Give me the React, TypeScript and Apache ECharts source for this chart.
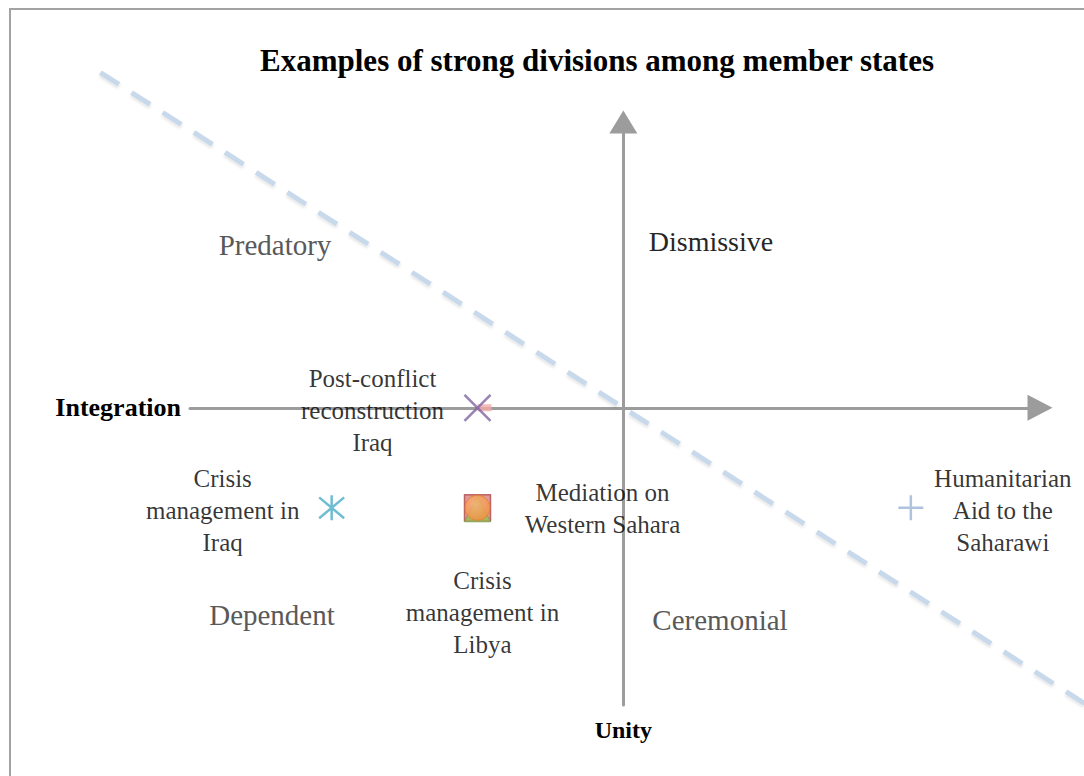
import React, { useEffect, useRef } from "react";
import * as echarts from "echarts";

// ---- data ----
const pointLabels = [
  "Post-conflict\nreconstruction\nIraq",
  "Crisis\nmanagement in\nIraq",
  "Mediation on\nWestern Sahara",
  "Crisis\nmanagement in\nLibya",
  "Humanitarian\nAid to the\nSaharawi",
];
const pointX = [-3.5, -7, -3.5, -3.5, 6.9];
const pointY = [0, -3.5, -3.5, -3.5, -3.5];

const dividerX = [-12.55, 11.5];
const dividerY = [11.73, -10.75];

const titleText = "Examples of strong divisions among member states";
const xAxisName = "Integration";
const yAxisName = "Unity";
const quadrantLabels = ["Predatory", "Dismissive", "Dependent", "Ceremonial"];

const SERIF = "'Liberation Serif', 'Times New Roman', serif";

// main plot geometry
const GRID = { left: 190, right: 44, top: 122, bottom: 71 };
const X_MIN = -10.4, X_MAX = 10, Y_MIN = -10.4, Y_MAX = 10;
const W = 1084, H = 776;
const pxPerX = (W - GRID.left - GRID.right) / (X_MAX - X_MIN);
const pxPerY = (H - GRID.top - GRID.bottom) / (Y_MAX - Y_MIN);

function labelStyle(offset: number[]) {
  return {
    show: true,
    position: "inside",
    offset,
    align: "center",
    verticalAlign: "middle",
    fontFamily: SERIF,
    fontSize: 25,
    lineHeight: 32,
    color: "#000",
    formatter: (p: any) => p.name,
  };
}

function pt(i: number) {
  return { name: pointLabels[i], value: [pointX[i], pointY[i]] };
}

const hiddenAxis = {
  type: "value",
  show: false,
  axisLine: { show: false },
  axisTick: { show: false },
  axisLabel: { show: false },
  splitLine: { show: false },
};

export default function App() {
  const ref = useRef<HTMLDivElement>(null);
  useEffect(() => {
    if (!ref.current) return;
    const chart = echarts.init(ref.current, null, { renderer: "svg" });
    const axisLineStyle = { color: "#9c9c9c", width: 3 };
    chart.setOption({
      animation: false,
      backgroundColor: "#fff",
      grid: [
        { ...GRID },
        { left: 0, right: 0, top: 0, bottom: 0 },
      ],
      xAxis: [
        {
          type: "value",
          gridIndex: 0,
          min: X_MIN,
          max: X_MAX,
          name: xAxisName,
          nameLocation: "start",
          nameGap: 9,
          nameTextStyle: { fontFamily: SERIF, fontSize: 26, fontWeight: "bold", color: "#000" },
          axisLine: { show: true, onZero: true, symbol: ["none", "triangle"], symbolSize: [26, 25], lineStyle: axisLineStyle },
          axisTick: { show: false },
          axisLabel: { show: false },
          splitLine: { show: false },
        },
        {
          ...hiddenAxis,
          gridIndex: 1,
          min: X_MIN - GRID.left / pxPerX,
          max: X_MAX + GRID.right / pxPerX,
        },
      ],
      yAxis: [
        {
          type: "value",
          gridIndex: 0,
          min: Y_MIN,
          max: Y_MAX,
          name: yAxisName,
          nameLocation: "start",
          nameGap: 13,
          nameTextStyle: { fontFamily: SERIF, fontSize: 24, fontWeight: "bold", color: "#000" },
          axisLine: { show: true, onZero: true, symbol: ["none", "triangle"], symbolSize: [28, 23], lineStyle: axisLineStyle },
          axisTick: { show: false },
          axisLabel: { show: false },
          splitLine: { show: false },
        },
        {
          ...hiddenAxis,
          gridIndex: 1,
          min: Y_MIN - GRID.bottom / pxPerY,
          max: Y_MAX + GRID.top / pxPerY,
        },
      ],
      graphic: [
        {
          type: "rect",
          shape: { x: 10, y: 9, width: 1300, height: 1000 },
          style: { fill: "none", stroke: "#a3a3a3", lineWidth: 2 },
          silent: true,
        },
        {
          type: "text",
          x: 597,
          y: 60,
          style: { text: titleText, align: "center", verticalAlign: "middle", font: `bold 31px ${SERIF}`, fill: "#000" },
        },
        {
          type: "text",
          x: 275,
          y: 245,
          style: { text: quadrantLabels[0], align: "center", verticalAlign: "middle", font: `29px ${SERIF}`, fill: "#595959" },
        },
        {
          type: "text",
          x: 711,
          y: 241,
          style: { text: quadrantLabels[1], align: "center", verticalAlign: "middle", font: `28px ${SERIF}`, fill: "#262626" },
        },
        {
          type: "text",
          x: 272,
          y: 615,
          style: { text: quadrantLabels[2], align: "center", verticalAlign: "middle", font: `29px ${SERIF}`, fill: "#595959" },
        },
        {
          type: "text",
          x: 720,
          y: 620,
          style: { text: quadrantLabels[3], align: "center", verticalAlign: "middle", font: `29px ${SERIF}`, fill: "#595959" },
        },
      ],
      series: [
        {
          type: "line",
          xAxisIndex: 1,
          yAxisIndex: 1,
          data: dividerX.map((x, i) => [x, dividerY[i]]),
          showSymbol: false,
          silent: true,
          z: 1,
          lineStyle: {
            color: "#c8d9ec",
            width: 5,
            type: [22, 15],
            shadowColor: "rgba(0,0,0,0.12)",
            shadowBlur: 3,
            shadowOffsetY: 2,
          },
        },
        // pink dash under the X marker
        {
          type: "scatter",
          data: [{ value: [pointX[0], pointY[0]] }],
          symbol: "rect",
          symbolSize: [14, 7],
          symbolOffset: [7, 0],
          itemStyle: { color: "#f2a9a9" },
          z: 3,
        },
        // X marker: Post-conflict reconstruction Iraq
        {
          type: "scatter",
          data: [pt(0)],
          symbol: "path://M0,0L10,10M10,0L0,10",
          symbolSize: 26,
          itemStyle: { color: "none", borderColor: "#8064a2", borderWidth: 2.5 },
          label: labelStyle([-105, 3]),
          z: 4,
        },
        // asterisk: Crisis management in Iraq
        {
          type: "scatter",
          data: [pt(1)],
          symbol: "path://M0,0L10,10M10,0L0,10M5,-1L5,11",
          symbolSize: 25,
          itemStyle: { color: "none", borderColor: "#4bacc6", borderWidth: 2.5 },
          label: labelStyle([-109, 3]),
          z: 4,
        },
        // square: Mediation on Western Sahara
        {
          type: "scatter",
          data: [pt(2)],
          symbol: "rect",
          symbolSize: 26,
          itemStyle: { color: "#d4817f", borderColor: "#b04a47", borderWidth: 1.5 },
          label: labelStyle([125, 1]),
          z: 4,
        },
        // green triangle (hidden under circle)
        {
          type: "scatter",
          data: [{ value: [pointX[3], pointY[3]] }],
          symbol: "triangle",
          symbolSize: 26,
          symbolOffset: [0, 1],
          itemStyle: { color: "#9bbb59", borderColor: "#7a9a3e", borderWidth: 1 },
          z: 5,
        },
        // circle: Crisis management in Libya
        {
          type: "scatter",
          data: [pt(3)],
          symbol: "circle",
          symbolSize: 25,
          itemStyle: {
            color: new echarts.graphic.RadialGradient(0.4, 0.35, 0.7, [
              { offset: 0, color: "#fdb57a" },
              { offset: 1, color: "#f38d3c" },
            ]),
            borderColor: "#e0812f",
            borderWidth: 1,
          },
          label: labelStyle([5, 105]),
          z: 6,
        },
        // plus: Humanitarian Aid to the Saharawi
        {
          type: "scatter",
          data: [pt(4)],
          symbol: "path://M5,0L5,10M0,5L10,5",
          symbolSize: 25,
          itemStyle: { color: "none", borderColor: "#9bb4d6", borderWidth: 2.5 },
          label: labelStyle([92, 3]),
          z: 4,
        },
      ],
    });
    return () => chart.dispose();
  }, []);
  return <div ref={ref} style={{ position: "fixed", left: 0, top: 0, width: W, height: H }} />;
}
